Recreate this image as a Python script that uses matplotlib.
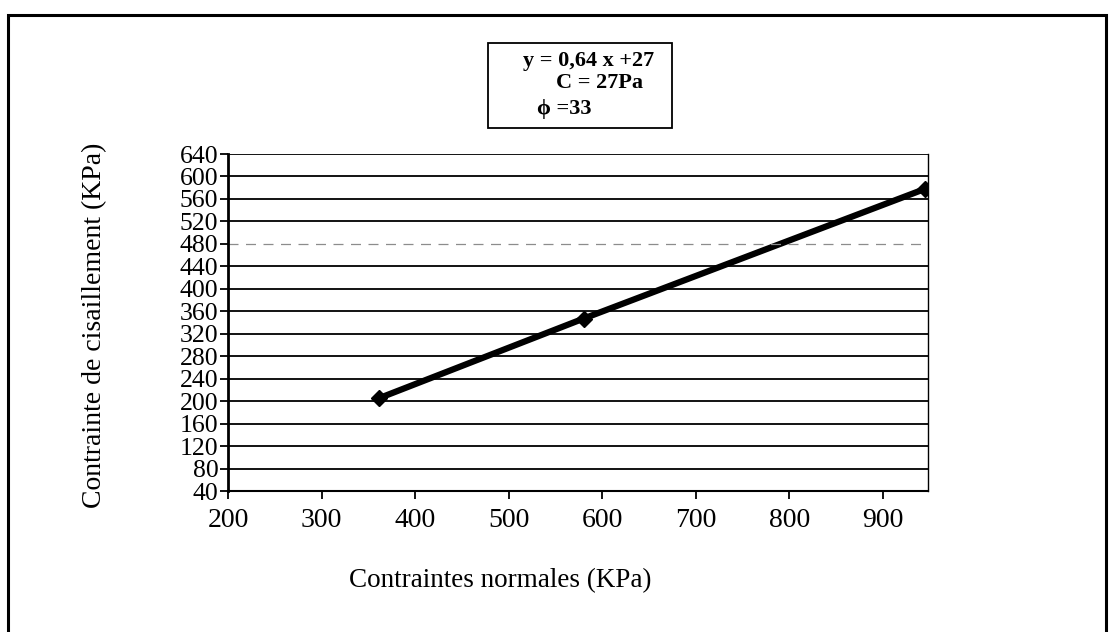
import matplotlib.pyplot as plt
from matplotlib.patches import Rectangle

# donnees
contraintes_normales = [361, 580, 945]
contraintes_cisaillement = [205, 347, 578]
y_ticks = list(range(40, 641, 40))
x_ticks = list(range(200, 901, 100))

plt.rcParams["font.family"] = ["Liberation Serif", "DejaVu Serif"]

fig = plt.figure(figsize=(11.14, 6.32), dpi=100)

# cadre exterieur
fig.patches.append(Rectangle((8 / 1114, -0.05), 1098 / 1114, 1.05 - 15 / 632,
                             transform=fig.transFigure, fill=False,
                             edgecolor="black", linewidth=2.2))

ax = fig.add_axes([228 / 1114, 1 - 491 / 632, 700 / 1114, 337 / 632])
ax.plot(contraintes_normales, contraintes_cisaillement, color="black",
        linewidth=4.5, marker="D", markersize=8, solid_capstyle="round")

ax.set_xlim(200, 948)
ax.set_ylim(40, 640)
ax.set_xticks(x_ticks)
ax.set_yticks(y_ticks)
for y in y_ticks[1:-1]:
    if y == 480:
        ax.axhline(y, color="0.55", linewidth=0.9, linestyle=(0, (8, 6)))
    else:
        ax.axhline(y, color="black", linewidth=1.3)
ax.axhline(640, color="black", linewidth=1.3)

ax.spines["left"].set_linewidth(2)
ax.spines["bottom"].set_linewidth(1.5)
ax.spines["top"].set_visible(False)
ax.spines["right"].set_linewidth(1)
ax.tick_params(axis="y", direction="out", length=6, width=1.3, labelsize=18.5, pad=1)
ax.tick_params(axis="x", direction="out", length=6, width=1.3, labelsize=20, pad=6)

fig.text(95 / 1114, 1 - 325 / 632, "Contrainte de cisaillement (KPa)",
         rotation=90, ha="center", va="center", fontsize=20)
fig.text(500 / 1114, 1 - 581 / 632, "Contraintes normales (KPa)",
         ha="center", va="center", fontsize=19.5)

# encadre de l'equation
fig.patches.append(Rectangle((488 / 1114, 1 - 128 / 632), 184 / 1114, 85 / 632,
                             transform=fig.transFigure, fill=False,
                             edgecolor="black", linewidth=1.3))
fig.text(589 / 1114, 1 - 61 / 632, "y = 0,64 x +27", ha="center", va="center",
         fontsize=16, fontweight="bold")
fig.text(600 / 1114, 1 - 83 / 632, "C = 27Pa", ha="center", va="center",
         fontsize=16, fontweight="bold")
fig.text(537 / 1114, 1 - 109 / 632, "\u03d5 =33", ha="left", va="center",
         fontsize=16, fontweight="bold")

fig.savefig("out.png", dpi=100)
